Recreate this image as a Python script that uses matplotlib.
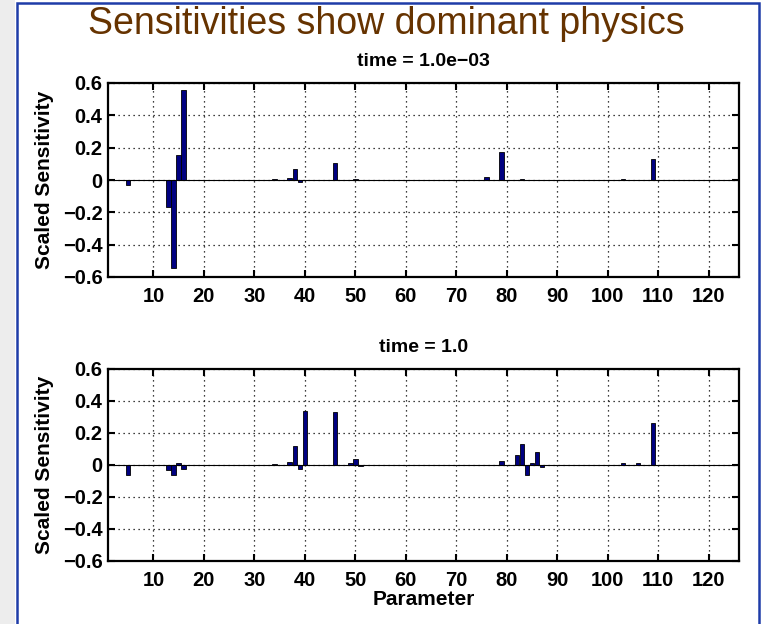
import matplotlib
matplotlib.use("Agg")
import matplotlib.pyplot as plt
from matplotlib.patches import Rectangle
import numpy as np

n_params = 125
params = np.arange(1, n_params + 1)

# nonzero scaled sensitivities (parameter index, value)
early_idx = [5, 13, 14, 15, 16, 19, 34, 37, 38, 39, 46, 50, 60, 76, 79, 83, 86, 103, 109, 121]
early_val = [-0.03, -0.17, -0.545, 0.155, 0.555, 0.003, 0.004, 0.015, 0.068, -0.015,
             0.105, 0.005, 0.003, 0.02, 0.175, 0.004, 0.003, 0.005, 0.128, 0.003]

late_idx = [5, 6, 13, 14, 15, 16, 34, 37, 38, 39, 40, 46, 49, 50, 51, 60, 76, 79,
            82, 83, 84, 85, 86, 87, 95, 100, 103, 106, 109, 112, 115, 121]
late_val = [-0.06, 0.003, -0.03, -0.065, 0.015, -0.025, 0.005, 0.02, 0.12, -0.025, 0.335,
            0.33, 0.012, 0.04, -0.004, 0.003, 0.003, 0.028, 0.065, 0.13, -0.065, 0.015,
            0.08, -0.015, 0.003, 0.003, 0.015, 0.01, 0.26, 0.003, 0.003, 0.003]

titles = ["time = 1.0e\u221203", "time = 1.0"]
xticks = list(range(10, 121, 10))
yticks = [-0.6, -0.4, -0.2, 0, 0.2, 0.4, 0.6]
ylabels = ['\u22120.6', '\u22120.4', '\u22120.2', '0', '0.2', '0.4', '0.6']

def full_series(idx, val):
    s = np.zeros(n_params)
    s[np.array(idx) - 1] = val
    return s

plt.rcParams['font.family'] = ['Liberation Sans', 'DejaVu Sans']

fig = plt.figure(figsize=(7.63, 6.24), dpi=100)

# slide frame
fig.patches.append(Rectangle((0, 0), 15 / 763, 1, transform=fig.transFigure,
                             fc='#ededed', ec='none', zorder=0))
fig.patches.append(Rectangle((17 / 763, -0.05), 742 / 763, 1 - 3 / 624 + 0.05,
                             transform=fig.transFigure, fill=False,
                             ec='#1e3ca8', lw=1.8, zorder=1))

fig.text(0.506, 0.961, "Sensitivities show dominant physics", color='#663300',
         fontsize=27, ha='center', va='center')

boxes = [[108 / 763, 1 - 277 / 624, 631 / 763, 194 / 624],
         [108 / 763, 1 - 561 / 624, 631 / 763, 192 / 624]]
series = [full_series(early_idx, early_val), full_series(late_idx, late_val)]

for box, s, title in zip(boxes, series, titles):
    ax = fig.add_axes(box)
    ax.bar(params, s, width=0.9, color='#000080', edgecolor='black', linewidth=0.6, zorder=3)
    ax.axhline(0, color='black', lw=0.8, zorder=4)
    ax.set_xlim(1, 126)
    ax.set_ylim(-0.6, 0.6)
    ax.set_xticks(xticks)
    ax.set_yticks(yticks)
    ax.set_yticklabels(ylabels)
    ax.grid(True, linestyle=(0, (1, 3)), color='black', lw=0.9)
    ax.tick_params(direction='in', top=True, right=True, length=5, width=1.5,
                   labelsize=14.5)
    ax.tick_params(axis='x', pad=7)
    ax.tick_params(axis='y', pad=4)
    for lab in ax.get_xticklabels() + ax.get_yticklabels():
        lab.set_fontweight('bold')
    for sp in ax.spines.values():
        sp.set_linewidth(1.6)
    ax.set_ylabel("Scaled Sensitivity", fontsize=15, fontweight='bold', labelpad=6)
    ax.set_title(title, fontsize=14, fontweight='bold', pad=12)

ax.set_xlabel("Parameter", fontsize=15, fontweight='bold', labelpad=0)

fig.savefig("out.png", dpi=100)
